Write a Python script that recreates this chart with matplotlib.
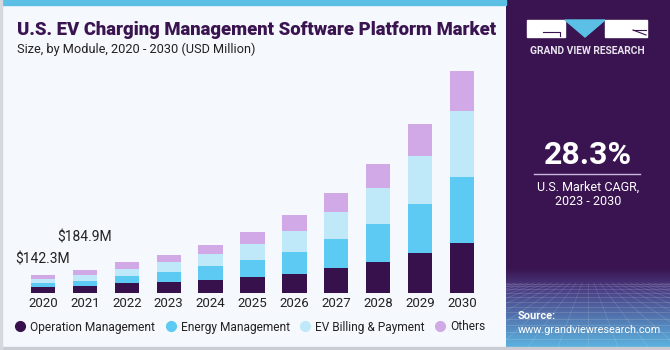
import numpy as np
import matplotlib
matplotlib.use("Agg")
import matplotlib.pyplot as plt
from matplotlib.patches import Rectangle, Polygon
from matplotlib.lines import Line2D

# data (USD million)
years = ["2020", "2021", "2022", "2023", "2024", "2025", "2026", "2027", "2028", "2029", "2030"]
operation = [46.5, 54.2, 78, 92, 105, 127, 156, 200, 251, 324, 405]
energy = [35.5, 46.3, 57, 81, 111, 138, 178, 237, 308, 397, 535]
billing = [33.3, 48.2, 59, 79, 100, 132, 170, 221, 292, 389, 535]
others = [27.0, 36.2, 57, 59, 75, 95, 124, 148, 194, 259, 324]
series_names = ["Operation Management", "Energy Management", "EV Billing & Payment", "Others"]
series_colors = ["#37114b", "#5ccaf2", "#bfe9f8", "#d1a9e6"]
callouts = {0: "$142.3M", 1: "$184.9M"}

W, H = 670, 350
BG = "#f5f8fc"
PURPLE = "#3a1450"

plt.rcParams['font.family'] = ['Roboto', 'DejaVu Sans']

fig = plt.figure(figsize=(W / 100, H / 100), dpi=100)
fig.patch.set_facecolor(BG)


def fx(x):
    return x / W


def fy(y):
    return 1 - y / H


# frame bits: top stripe, borders
fig.patches.append(Rectangle((0, fy(5)), fx(506), 5 / H, transform=fig.transFigure,
                             color="#5cc0e6", zorder=0))
fig.patches.append(Rectangle((0, 0), 1, 3 / H, transform=fig.transFigure,
                             color="#c9ccd2", zorder=0))
fig.patches.append(Rectangle((0, 0), 1.5 / W, 1, transform=fig.transFigure,
                             color="#d5d8de", zorder=0))

# main chart
ax = fig.add_axes([fx(10), fy(293), fx(495) - fx(10), (293 - 60) / H])
ax.set_facecolor("none")
x = np.arange(len(years))
bottom = np.zeros(len(years))
for vals, name, col in zip([operation, energy, billing, others], series_names, series_colors):
    ax.bar(x, vals, bottom=bottom, width=0.58, color=col, label=name, zorder=2)
    bottom = bottom + np.array(vals)

ax.set_xlim((10 - 43) / 41.9, (495 - 43) / 41.9)
ax.set_ylim(0, 233 * 8.1)
ax.set_xticks(x, years)
ax.tick_params(axis="x", length=0, pad=3, labelsize=9.5, colors="#222222")
ax.set_yticks([])
for s in ax.spines.values():
    s.set_visible(False)

offsets = {0: 9, 1: 26}
for i, txt in callouts.items():
    ax.annotate(txt, (x[i], bottom[i]), xytext=(0, offsets[i]), textcoords="offset pixels",
                ha="center", va="bottom", fontsize=10, color="#222222")

handles = [Line2D([], [], marker="o", ls="", markersize=7, color=c) for c in series_colors]
fig.legend(handles, series_names, loc="center left", bbox_to_anchor=(fx(14), fy(327)),
           ncol=4, frameon=False, fontsize=8.6, handletextpad=0.35, columnspacing=0.8,
           handlelength=1.0, borderaxespad=0, borderpad=0, labelcolor="#222222")

# titles
fig.text(fx(17), fy(30), "U.S. EV Charging Management Software Platform Market",
         fontsize=13.3, fontweight="heavy", color=PURPLE, va="center", ha="left")
fig.text(fx(17), fy(49), "Size, by Module, 2020 - 2030 (USD Million)",
         fontsize=9.2, color="#222222", va="center", ha="left")

# right panel
pax = fig.add_axes([fx(506), fy(347), fx(670) - fx(506), (347) / H])
pax.set_xlim(506, 670)
pax.set_ylim(347, 0)
pax.axis("off")
grad = np.ones((347, 1, 3))
top_c = np.array([0x3a, 0x14, 0x50]) / 255
mid_c = np.array([0x4a, 0x3c, 0x82]) / 255
bot_c = np.array([0x5c, 0xb4, 0xe0]) / 255
for r in range(347):
    if r < 268:
        grad[r, 0] = top_c
    elif r < 288:
        t = (r - 268) / 20
        grad[r, 0] = top_c * (1 - t) + mid_c * t
    else:
        t = (r - 288) / 59
        grad[r, 0] = mid_c * (1 - t) + bot_c * t
pax.imshow(grad, extent=(506, 670, 347, 0), aspect="auto", zorder=0)

# perspective grid
for k in range(1, 14):
    yy = 283 + (k / 13) ** 1.6 * 64
    pax.plot([506, 670], [yy, yy], color="white", lw=0.5, alpha=0.18, zorder=1)
for k in range(-20, 21):
    pax.plot([588 + k * 6, 588 + k * 30], [283, 347], color="white", lw=0.5, alpha=0.15, zorder=1)

# logo
pax.add_patch(Rectangle((527, 20), 38, 17, color="white", zorder=2))
pax.add_patch(Polygon([[565, 20], [605, 20], [585, 37]], closed=True, color="#5cc0e6", zorder=2))
pax.add_patch(Rectangle((605, 20), 42, 17, color="white", zorder=2))
pax.plot([543, 560, 560], [32, 32, 36], color=PURPLE, lw=0.8, zorder=3)
pax.plot([633, 646], [30, 35], color=PURPLE, lw=0.8, zorder=3)
pax.plot([633, 646], [30, 30], color=PURPLE, lw=0.8, zorder=3)
pax.text(587, 51, "GRAND VIEW RESEARCH", color="#e8e4ee", fontsize=7.4, fontweight="bold",
         ha="center", va="center", zorder=3)

pax.text(588, 155, "28.3%", color="white", fontsize=23, fontweight="bold",
         ha="center", va="center", zorder=3)
pax.plot([534, 640], [173.5, 173.5], color="#c9b8dc", lw=1, zorder=3)
pax.text(588, 187, "U.S. Market CAGR,", color="white", fontsize=9, ha="center", va="center", zorder=3)
pax.text(588, 201.5, "2023 - 2030", color="white", fontsize=9, ha="center", va="center", zorder=3)

pax.text(518, 316, "Source:", color="white", fontsize=8, fontweight="bold",
         ha="left", va="center", zorder=3)
pax.text(518, 330, "www.grandviewresearch.com", color="white", fontsize=7.8,
         ha="left", va="center", zorder=3)

fig.savefig("out.png", dpi=100, facecolor=fig.get_facecolor())
